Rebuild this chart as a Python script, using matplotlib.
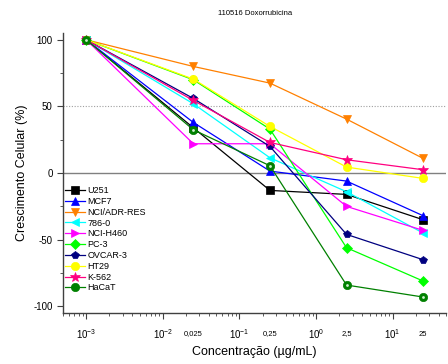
import matplotlib
matplotlib.use("Agg")
import matplotlib.pyplot as plt
from matplotlib.ticker import LogLocator, NullFormatter, MultipleLocator

plt.rcParams["font.family"] = ["Liberation Sans", "DejaVu Sans"]
plt.rcParams["mathtext.fontset"] = "custom"
plt.rcParams["mathtext.rm"] = "Liberation Sans"
plt.rcParams["axes.unicode_minus"] = False

conc = [0.001, 0.025, 0.25, 2.5, 25]
extra_labels = ["0,025", "0,25", "2,5", "25"]

u251 = [100, 34, -13, -16, -35]
mcf7 = [100, 38, 1.5, -6, -32]
nci_adr = [100, 80, 67.5, 40.5, 11]
c786 = [100, 52, 11.5, -14, -45]
nci_h460 = [100, 22, 22, -25, -43]
pc3 = [100, 70, 33, -56, -81]
ovcar3 = [100, 56, 20, -46, -65]
ht29 = [100, 70.5, 35, 4.5, -4]
k562 = [100, 54.5, 23, 10, 2.5]
hacat = [100, 32.5, 5.5, -84, -93]

series = [
    ("U251", u251, "black", "s"),
    ("MCF7", mcf7, "#0000ff", "^"),
    ("NCI/ADR-RES", nci_adr, "#ff8000", "v"),
    ("786-0", c786, "#00ffff", "<"),
    ("NCI-H460", nci_h460, "#ff00ff", ">"),
    ("PC-3", pc3, "#00ff00", "D"),
    ("OVCAR-3", ovcar3, "#000080", "p"),
    ("HT29", ht29, "#ffff00", "o"),
    ("K-562", k562, "#ff0080", "*"),
    ("HaCaT", hacat, "#008000", "o"),
]

fig = plt.figure(figsize=(4.48, 3.64), dpi=100)
ax = fig.add_axes([0.141, 0.14, 0.855, 0.769])

ax.axhline(0, color="#808080", lw=1.0, zorder=1)
ax.axhline(50, color="#a0a0a0", lw=0.8, ls=(0, (1, 1.5)), zorder=1)

for name, vals, col, mk in series:
    ms = 6 if mk not in ("*", "D") else (7 if mk == "*" else 5)
    ax.plot(conc, vals, color=col, marker=mk, ms=ms, lw=0.9, label=name,
            markeredgewidth=0.5, markeredgecolor=col, zorder=3)
    if name == "HaCaT":
        ax.plot(conc, vals, ls="none", marker="o", ms=2, color="#d0f0d0",
                mew=0, zorder=4)

ax.set_xscale("log")
ax.set_xlim(0.0005, 50)
ax.set_ylim(-105, 105)
ax.set_xticks([1e-3, 1e-2, 1e-1, 1e0, 1e1])
ax.xaxis.set_minor_locator(LogLocator(base=10, subs=range(2, 10), numticks=20))
ax.xaxis.set_minor_formatter(NullFormatter())
ax.yaxis.set_major_locator(MultipleLocator(50))
ax.yaxis.set_minor_locator(MultipleLocator(25))

for s in ("top", "right"):
    ax.spines[s].set_visible(False)
for s in ("left", "bottom"):
    ax.spines[s].set_color("#404040")
    ax.spines[s].set_linewidth(1.0)

ax.tick_params(axis="both", which="major", direction="out", length=4,
               width=0.8, labelsize=7, color="#404040")
ax.tick_params(axis="both", which="minor", direction="out", length=2,
               width=0.6, color="#404040")
ax.tick_params(axis="x", pad=6)

for xv, lab in zip(conc[1:], extra_labels):
    ax.text(xv, -0.075, lab, transform=ax.get_xaxis_transform(),
            ha="center", va="center", fontsize=5.5)

ax.set_xlabel("Concentração (µg/mL)", fontsize=9)
ax.set_ylabel("Crescimento Celular (%)", fontsize=9)
ax.set_title("110516 Doxorrubicina", fontsize=5.5, pad=13)

leg = ax.legend(loc="upper left", bbox_to_anchor=(0.005, 0.453), frameon=False,
                fontsize=6.5, handlelength=2.2, handletextpad=0.3,
                labelspacing=0.2, borderaxespad=0.0, borderpad=0.0)

fig.savefig("out.png", dpi=100)
